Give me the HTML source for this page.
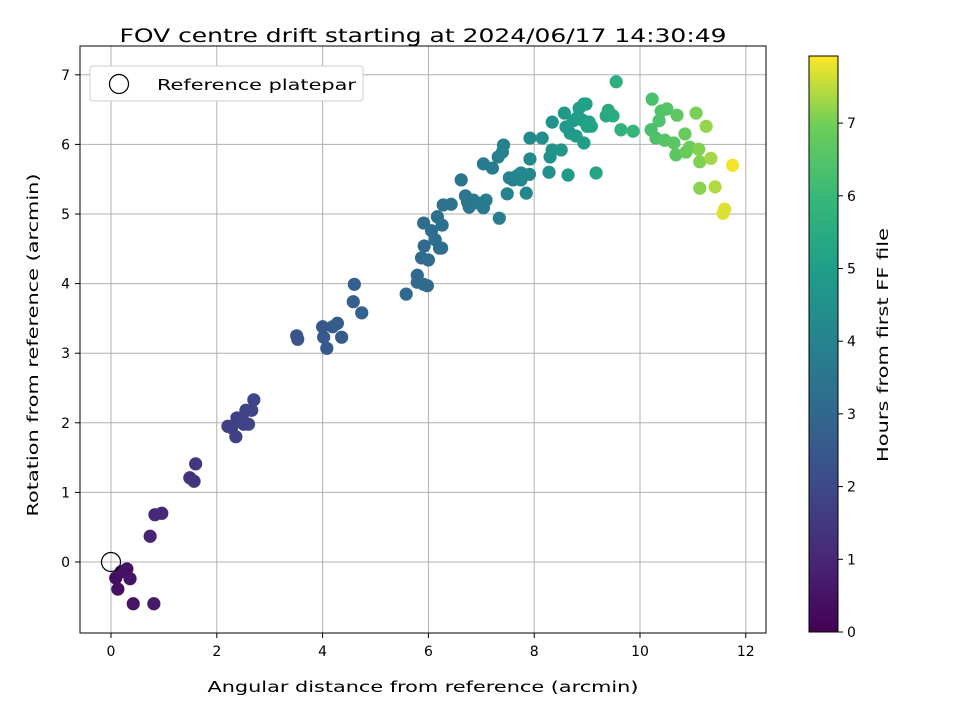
<!DOCTYPE html>
<html><head><meta charset="utf-8"><style>
body{margin:0;background:#fff}
svg{font-family:"DejaVu Sans","Liberation Sans",sans-serif}
</style></head><body>
<svg id="chart" width="960" height="720">
<defs><linearGradient id="vir" x1="0" y1="1" x2="0" y2="0">
<stop offset="0" stop-color="#440154"/><stop offset="0.13" stop-color="#482878"/><stop offset="0.25" stop-color="#3e4989"/><stop offset="0.38" stop-color="#31688e"/><stop offset="0.5" stop-color="#26828e"/><stop offset="0.63" stop-color="#1f9e89"/><stop offset="0.75" stop-color="#35b779"/><stop offset="0.88" stop-color="#6ece58"/><stop offset="1" stop-color="#fde725"/></linearGradient></defs>
<g id="grid"></g>
<g id="pts"></g>
<rect x="80" y="46" width="686" height="587" fill="none" stroke="#000" stroke-width="1"/>
<g id="ticks"></g>
<text x="423" y="42" font-size="19" text-anchor="middle" textLength="607" lengthAdjust="spacingAndGlyphs">FOV centre drift starting at 2024/06/17 14:30:49</text>
<text x="423" y="692" font-size="15" text-anchor="middle" textLength="431" lengthAdjust="spacingAndGlyphs">Angular distance from reference (arcmin)</text>
<text transform="translate(38,345) rotate(-90)" font-size="15" text-anchor="middle" textLength="343" lengthAdjust="spacingAndGlyphs">Rotation from reference (arcmin)</text>
<g>
<rect x="90" y="66" width="273" height="35" rx="3" fill="#fff" stroke="#ccc"/>
<circle cx="119" cy="84" r="9.5" fill="none" stroke="#000" stroke-width="1.2"/>
<text x="157" y="90" font-size="15" textLength="199" lengthAdjust="spacingAndGlyphs">Reference platepar</text>
</g>
<rect x="809" y="56" width="29" height="576" fill="url(#vir)" stroke="#000"/>
<g id="cbt"></g>
<text transform="translate(888,345) rotate(-90)" font-size="15" text-anchor="middle" textLength="234" lengthAdjust="spacingAndGlyphs">Hours from first FF file</text>
</svg>
<script>
const xs=[0.09,0.19,0.30,0.36,0.13,0.42,0.81,0.74,0.83,0.96,1.49,1.57,1.60,
2.21,2.28,2.36,2.38,2.49,2.55,2.60,2.66,2.70,2.51,
3.51,3.53,4.00,4.02,4.08,4.19,4.28,4.36,4.58,4.60,4.74,
5.58,5.79,5.79,5.91,5.98,5.92,5.87,6.00,5.91,6.06,6.13,6.21,6.25,6.17,6.26,6.28,
6.43,6.62,6.70,6.77,6.85,6.92,7.04,7.09,6.74,7.34,7.04,7.21,7.32,7.40,7.42,7.49,7.53,7.60,7.68,7.75,7.75,7.85,7.91,7.92,7.92,
8.15,8.28,8.30,8.34,8.34,8.51,8.57,8.60,8.64,8.68,8.74,8.79,8.81,8.85,8.91,8.94,8.94,8.98,9.00,9.04,9.08,9.17,9.36,9.40,9.49,9.55,9.64,9.87,
10.23,10.21,10.30,10.36,10.40,10.51,10.47,10.64,10.68,10.70,10.85,10.87,10.94,11.06,11.13,11.11,11.13,11.25,11.34,11.42,11.57,11.60,11.75];
const ys=[-0.23,-0.14,-0.10,-0.24,-0.39,-0.60,-0.60,0.37,0.68,0.70,1.21,1.16,1.41,
1.95,1.93,1.80,2.07,2.04,2.18,1.98,2.18,2.33,1.98,
3.25,3.20,3.38,3.23,3.07,3.38,3.43,3.23,3.74,3.99,3.58,
3.85,4.12,4.02,3.99,3.97,4.54,4.37,4.34,4.87,4.76,4.63,4.51,4.51,4.96,4.84,5.13,
5.14,5.49,5.26,5.10,5.20,5.16,5.09,5.20,5.17,4.94,5.72,5.66,5.82,5.89,5.99,5.29,5.52,5.49,5.55,5.59,5.49,5.30,5.57,5.79,6.09,
6.09,5.60,5.82,5.92,6.32,5.92,6.45,6.25,5.56,6.16,6.34,6.12,6.38,6.52,6.35,6.58,6.02,6.58,6.26,6.32,6.26,5.59,6.41,6.49,6.41,6.90,6.21,6.19,
6.65,6.21,6.09,6.34,6.48,6.51,6.06,6.02,5.85,6.42,6.15,5.89,5.96,6.45,5.75,5.93,5.37,6.26,5.80,5.39,5.01,5.07,5.70];
const hours=[0.3,0.4,0.45,0.5,0.35,0.5,0.6,0.9,1.0,1.0,1.3,1.35,1.4,
1.7,1.7,1.75,1.75,1.8,1.8,1.85,1.85,1.9,1.8,
2.3,2.3,2.5,2.5,2.5,2.55,2.6,2.6,2.7,2.7,2.75,
3.0,3.05,3.05,3.1,3.1,3.1,3.1,3.15,3.15,3.2,3.2,3.25,3.25,3.25,3.3,3.3,
3.4,3.5,3.5,3.55,3.6,3.6,3.65,3.7,3.5,3.8,3.65,3.75,3.85,3.9,3.9,3.95,3.95,4.0,4.05,4.1,4.1,4.15,4.2,4.2,4.2,
4.4,4.5,4.5,4.55,4.55,4.7,4.75,4.75,4.8,4.85,4.9,4.9,4.9,4.95,5.0,5.05,5.0,5.05,5.1,5.1,5.15,5.2,5.4,5.4,5.5,5.6,5.7,5.9,
6.3,6.3,6.35,6.4,6.4,6.5,6.5,6.6,6.6,6.65,6.8,6.8,6.85,7.0,7.05,7.05,7.1,7.2,7.3,7.4,7.7,7.7,7.85];
const xTicks=[0,2,4,6,8,10,12];
const yTicks=[0,1,2,3,4,5,6,7];
const cTicks=[0,1,2,3,4,5,6,7];
const X=v=>111+v*52.9, Y=v=>562-v*69.6, C=v=>632-v*72.7;
const NS='http://www.w3.org/2000/svg';
const stops=[[68,1,84],[72,40,120],[62,73,137],[49,104,142],[38,130,142],[31,158,137],[53,183,121],[110,206,88],[253,231,37]];
function vir(t){t=Math.max(0,Math.min(1,t))*(stops.length-1);const i=Math.min(Math.floor(t),stops.length-2),f=t-i;const a=stops[i],b=stops[i+1];return `rgb(${a.map((v,k)=>Math.round(v+(b[k]-v)*f)).join(',')})`;}
function mk(tag,at,parent){const e=document.createElementNS(NS,tag);for(const k in at)e.setAttribute(k,at[k]);parent.appendChild(e);return e;}
const grid=document.getElementById('grid'),tk=document.getElementById('ticks'),pts=document.getElementById('pts'),cbt=document.getElementById('cbt');
xTicks.forEach(v=>{const g=mk('line',{x1:X(v),x2:X(v),y1:46,y2:633,stroke:'#b0b0b0','stroke-width':1},grid);
const t=mk('line',{x1:X(v),x2:X(v),y1:633,y2:638,stroke:'#000'},tk);
const l=mk('text',{x:X(v),y:656,'font-size':14,'text-anchor':'middle'},tk);l.textContent=v;});
yTicks.forEach(v=>{const g=mk('line',{x1:80,x2:766,y1:Y(v),y2:Y(v),stroke:'#b0b0b0','stroke-width':1},grid);
const t=mk('line',{x1:75,x2:80,y1:Y(v),y2:Y(v),stroke:'#000'},tk);
const l=mk('text',{x:70,y:Y(v)+5,'font-size':14,'text-anchor':'end'},tk);l.textContent=v;});
cTicks.forEach(v=>{const t=mk('line',{x1:838,x2:843,y1:C(v),y2:C(v),stroke:'#000'},cbt);
const l=mk('text',{x:847,y:C(v)+5,'font-size':14},cbt);l.textContent=v;});
const hmax=7.92;
xs.forEach((x,i)=>{const c=mk('circle',{cx:X(x),cy:Y(ys[i]),r:6.6,fill:vir(hours[i]/hmax)},pts);});
const r=mk('circle',{cx:X(0),cy:Y(0),r:9.5,fill:'none',stroke:'#000','stroke-width':1.2},pts);


</script>
</body></html>
